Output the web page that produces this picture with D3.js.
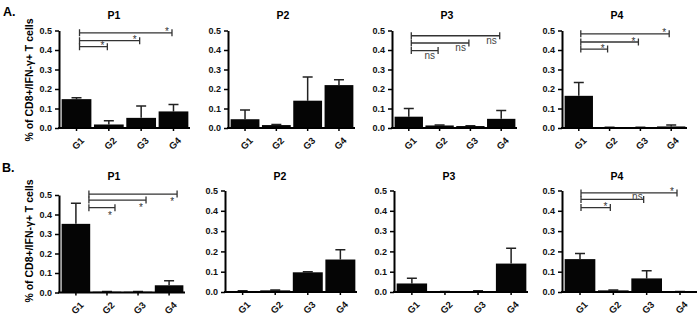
<html>
<head>
  <meta charset="utf-8">
  <script src="https://d3js.org/d3.v7.min.js"></script>
  <script>
    // groups, panels and ticks
    var groups = ["G1", "G2", "G3", "G4"];
    var panels = ["P1", "P2", "P3", "P4"];
    var yTicks = [0, 0.1, 0.2, 0.3, 0.4, 0.5];
    var yLabel = "% of CD8+/IFN-\u03b3+ T cells";

    // row A: mean and upper error (SEM) per panel, G1..G4
    var meanA = [[0.148, 0.018, 0.052, 0.085],
                 [0.045, 0.015, 0.140, 0.220],
                 [0.058, 0.013, 0.010, 0.047],
                 [0.165, 0.003, 0.003, 0.008]];
    var errA  = [[0.007, 0.019, 0.061, 0.035],
                 [0.047, 0.003, 0.122, 0.028],
                 [0.042, 0.002, 0.002, 0.043],
                 [0.068, 0.001, 0.001, 0.007]];

    // row B
    var meanB = [[0.352, 0.004, 0.004, 0.037],
                 [0.005, 0.008, 0.097, 0.160],
                 [0.042, 0.002, 0.004, 0.140],
                 [0.162, 0.008, 0.067, 0.002]];
    var errB  = [[0.106, 0.001, 0.001, 0.023],
                 [0.001, 0.002, 0.003, 0.048],
                 [0.026, 0.001, 0.002, 0.075],
                 [0.028, 0.002, 0.038, 0.001]];

    // significance brackets G1 vs G2/G3/G4
    var sigPanels  = ["A P1", "A P3", "A P4", "B P1", "B P4"];
    var sigTargets = ["G2", "G3", "G4"];
    var sigLevels  = [[0.417, 0.448, 0.488],
                      [0.397, 0.436, 0.473],
                      [0.405, 0.441, 0.483],
                      [0.435, 0.474, 0.505],
                      [0.416, 0.456, 0.488]];
    var sigLabels  = [["*", "*", "*"],
                      ["ns", "ns", "ns"],
                      ["*", "*", "*"],
                      ["*", "*", "*"],
                      ["*", "ns", "*"]];

    // layout
    var font = "'Liberation Sans', Arial, sans-serif";
    var axisX = { A: [59, 228, 392, 562], B: [59, 225, 394, 562] };
    var endX  = { A: [190, 355, 517, 687], B: [185, 357, 528, 697] };
    var rowY  = { A: [128, 30.5], B: [292, 190.5] };
    var titleY = { A: 18.5, B: 180 };
    var labelY = { A: 80, B: 241 };
    var letterY = { A: 15.5, B: 171.5 };
    var sigGeom = [ {s: 3, e: -1.5, place: "above"},
                    {s: 2.5, e: -1.5, place: "below"},
                    {s: 2, e: -2, place: "above"},
                    {s: 13, e: 8, place: "below"},
                    {s: 1, e: -3, place: "above"} ];

    function draw() {
        var svg = d3.select("#chart");

        ["A", "B"].forEach(function(row) {
            var means = row == "A" ? meanA : meanB;
            var errs  = row == "A" ? errA : errB;

            svg.append("text").attr("x", row == "A" ? 3 : 2).attr("y", letterY[row])
                .attr("font-family", font).attr("font-weight", "bold").attr("font-size", 12.5)
                .text(row + ".");

            svg.append("text")
                .attr("transform", "translate(32.5," + labelY[row] + ") rotate(-90)")
                .attr("text-anchor", "middle").attr("font-family", font)
                .attr("font-weight", "bold").attr("font-size", 10.5).text(yLabel);

            panels.forEach(function(p, pi) {
                var ax = axisX[row][pi], ex = endX[row][pi];
                var x = d3.scaleBand().domain(groups).range([ax + 2, ex - 1])
                    .paddingInner(0.08).paddingOuter(0.02);
                var yr = (row == "B" && pi == 0) ? [292.5, 195] : rowY[row];
                var y = d3.scaleLinear().domain([0, 0.5]).range(yr);
                var cx = function(gname) { return x(gname) + x.bandwidth() / 2; };

                var g = svg.append("g");
                var data = groups.map(function(gn, i) {
                    return { g: gn, m: means[pi][i], e: errs[pi][i] };
                });

                // error bars (upper only) then bars
                g.selectAll(".err").data(data).enter().append("path")
                    .attr("d", function(d) {
                        var c = cx(d.g), t = y(d.m + d.e);
                        return "M" + c + "," + y(d.m) + "V" + t + "M" + (c - 5) + "," + t + "H" + (c + 5);
                    })
                    .attr("stroke", "#222").attr("stroke-width", 1.5).attr("fill", "none");

                g.selectAll(".bar").data(data).enter().append("rect")
                    .attr("x", d => x(d.g)).attr("y", d => y(d.m))
                    .attr("width", x.bandwidth()).attr("height", d => y(0) - y(d.m))
                    .attr("fill", "#050505");

                // y axis
                var ya = g.append("g").attr("transform", "translate(" + ax + ",0)")
                    .call(d3.axisLeft(y).tickValues(yTicks).tickFormat(d3.format(".1f"))
                        .tickSize(4).tickSizeOuter(0).tickPadding(3));
                ya.select(".domain").attr("stroke-width", 2).attr("stroke", "#000");
                ya.selectAll("line").attr("stroke-width", 1.5).attr("stroke", "#000");
                ya.selectAll("text").attr("font-family", font).attr("font-weight", "bold")
                    .attr("font-size", 9).attr("fill", "#111");

                // x axis
                var xa = g.append("g").attr("transform", "translate(0," + y(0) + ")")
                    .call(d3.axisBottom(x).tickSize(3).tickSizeOuter(0));
                xa.select(".domain").attr("d", "M" + (ax - 1) + ",0H" + ex)
                    .attr("stroke-width", 2).attr("stroke", "#000");
                xa.selectAll("line").attr("stroke-width", 1.5).attr("stroke", "#000");
                xa.selectAll("text").attr("x", 0).attr("y", 0).attr("dy", "0.35em")
                    .attr("text-anchor", "end").attr("transform", "translate(6,11) rotate(-45)")
                    .attr("font-family", font).attr("font-weight", "bold")
                    .attr("font-size", 9.5).attr("fill", "#111");

                // title
                g.append("text").attr("x", ax + 55).attr("y", titleY[row])
                    .attr("text-anchor", "middle").attr("font-family", font)
                    .attr("font-weight", "bold").attr("font-size", 10.5).text(p);

                // significance brackets
                var si = sigPanels.indexOf(row + " " + p);
                if (si >= 0) {
                    var geo = sigGeom[si];
                    var xs = cx("G1") + geo.s;
                    sigTargets.forEach(function(t, k) {
                        var yy = y(sigLevels[si][k]);
                        var xe = cx(t) + geo.e;
                        g.append("path")
                            .attr("d", "M" + xs + "," + (yy - 3.5) + "V" + (yy + 3.5) +
                                       "M" + xs + "," + yy + "H" + xe +
                                       "M" + xe + "," + (yy - 3.5) + "V" + (yy + 3.5))
                            .attr("stroke", "#333").attr("stroke-width", 1.3).attr("fill", "none");

                        var lab = sigLabels[si][k];
                        var txt = g.append("text").attr("font-family", font).text(lab);
                        if (lab == "*") {
                            txt.attr("x", xe - 5).attr("y", geo.place == "above" ? yy + 2.5 : yy + 11)
                                .attr("text-anchor", "middle").attr("font-size", 10).attr("fill", "#333");
                        } else {
                            txt.attr("x", geo.place == "above" ? xe - 1 : xe - 3)
                                .attr("y", geo.place == "above" ? yy + 0.5 : yy + 8.5)
                                .attr("text-anchor", "end").attr("font-size", 10).attr("fill", "#444");
                        }
                    });
                }
            });
        });
    }
  </script>
</head>

<body onload="draw()" style="margin:0">
    <svg id="chart" width="700" height="316" style="background:white"></svg>
</body>
</html>
